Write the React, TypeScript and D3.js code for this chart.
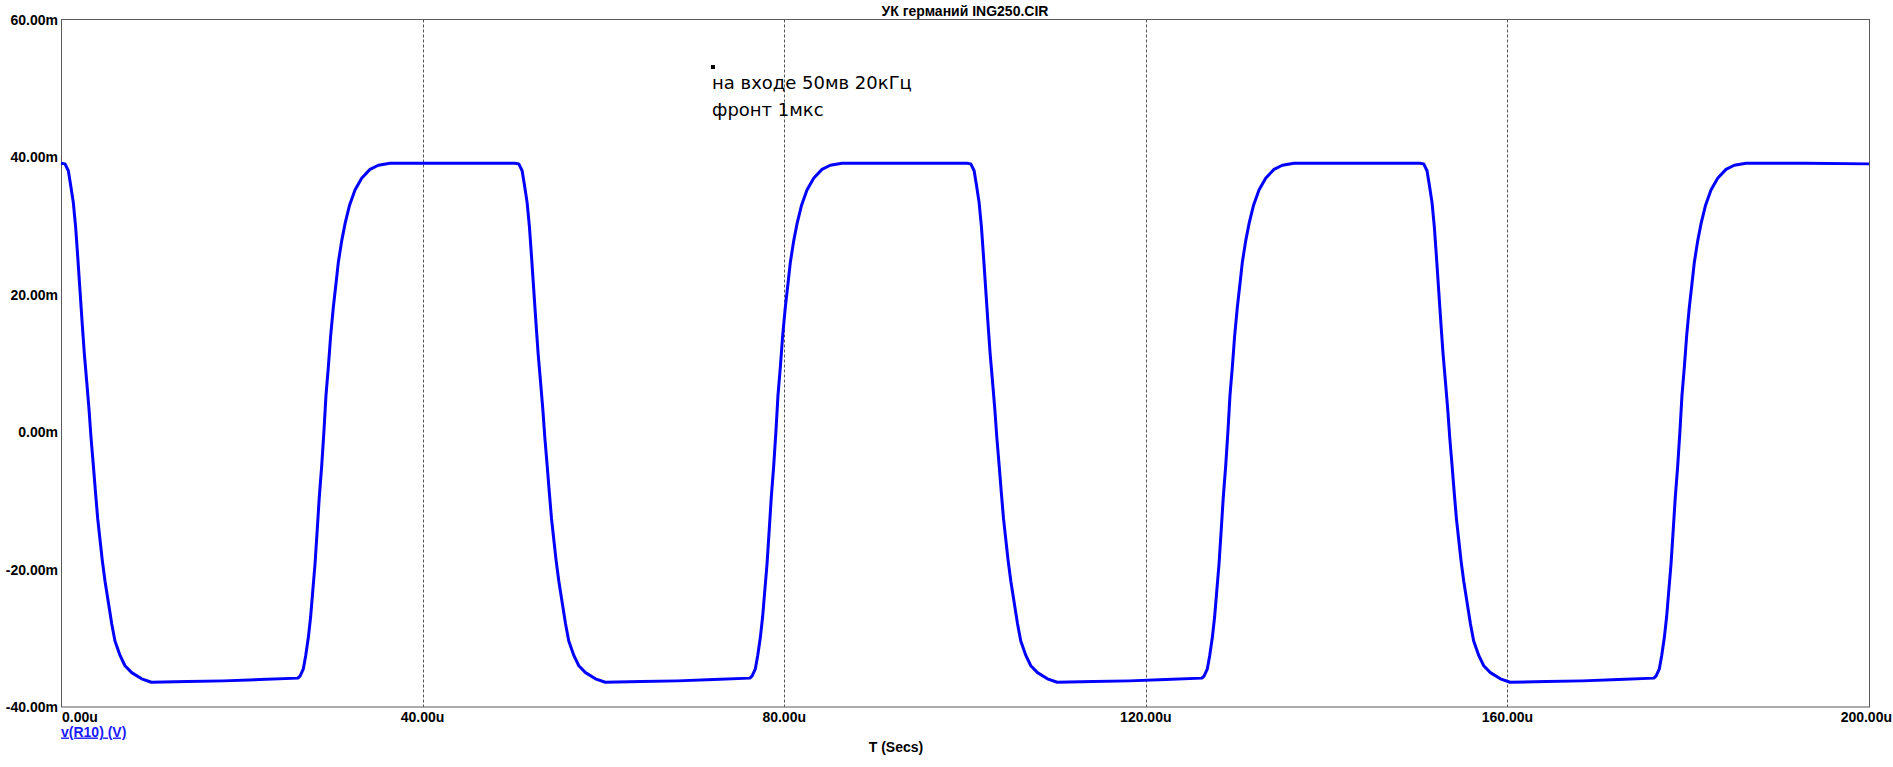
import React from "react";
import * as d3 from "d3";

// ---- data (time in µs, voltage in mV) ----
const title = "УК германий ING250.CIR";
const xTicks = [0, 40, 80, 120, 160, 200];
const xTickLabels = ["0.00u", "40.00u", "80.00u", "120.00u", "160.00u", "200.00u"];
const yTicks = [-40, -20, 0, 20, 40, 60];
const yTickLabels = ["-40.00m", "-20.00m", "0.00m", "20.00m", "40.00m", "60.00m"];
const gridX = [40, 80, 120, 160];
const noteLines = ["на входе 50мв 20кГц", "фронт 1мкс"];
const seriesLabel = "v(R10) (V)";
const xTitle = "T (Secs)";

const fall1: [number, number][] = [
  [0, 39.1], [0.44, 39.0], [0.81, 38.0], [1.07, 35.9], [1.36, 33.4], [1.62, 29.8], [1.84, 25.7], [2.1, 20.6],
  [2.36, 15.5], [2.58, 11.4], [2.84, 7.4], [3.1, 3.3], [3.32, -0.8], [3.58, -4.9], [3.83, -9.0], [4.06, -12.6],
  [4.31, -15.6], [4.57, -18.7], [4.87, -21.7], [5.24, -24.8], [5.61, -27.9], [5.97, -30.4], [6.53, -32.5],
  [7.08, -34.0], [7.82, -35.0], [8.92, -35.9], [10.0, -36.4], [14.0, -36.3], [18.0, -36.2], [22.0, -36.0],
];
const rise1: [number, number][] = [
  [26.2, -35.8], [26.44, -35.5], [26.8, -34.5], [27.07, -32.5], [27.36, -29.9], [27.62, -26.8], [27.84, -23.3],
  [28.1, -19.2], [28.35, -14.1], [28.57, -9.5], [28.84, -4.9], [29.09, 0.2], [29.31, 5.3], [29.57, 9.4],
  [29.83, 14.0], [30.12, 18.1], [30.42, 21.6], [30.68, 24.7], [31.05, 27.8], [31.42, 30.3], [31.9, 32.9],
  [32.52, 35.2], [33.26, 36.9], [34.18, 38.2], [35.1, 38.8], [36.4, 39.1], [43.0, 39.1],
];
const fall2: [number, number][] = [
  [50.2, 39.1], [50.64, 39.0], [51.01, 38.0], [51.27, 35.9], [51.56, 33.4], [51.82, 29.8], [52.04, 25.7], [52.3, 20.6],
  [52.56, 15.5], [52.78, 11.4], [53.04, 7.4], [53.3, 3.3], [53.52, -0.8], [53.78, -4.9], [54.03, -9.0], [54.26, -12.6],
  [54.51, -15.6], [54.77, -18.7], [55.07, -21.7], [55.44, -24.8], [55.81, -27.9], [56.17, -30.4], [56.73, -32.5],
  [57.28, -34.0], [58.02, -35.0], [59.12, -35.9], [60.2, -36.4], [64.2, -36.3], [68.2, -36.2], [72.2, -36.0],
];
const rise2: [number, number][] = [
  [76.2, -35.8], [76.44, -35.5], [76.8, -34.5], [77.07, -32.5], [77.36, -29.9], [77.62, -26.8], [77.84, -23.3],
  [78.1, -19.2], [78.35, -14.1], [78.57, -9.5], [78.84, -4.9], [79.09, 0.2], [79.31, 5.3], [79.57, 9.4],
  [79.83, 14.0], [80.12, 18.1], [80.42, 21.6], [80.68, 24.7], [81.05, 27.8], [81.42, 30.3], [81.9, 32.9],
  [82.52, 35.2], [83.26, 36.9], [84.18, 38.2], [85.1, 38.8], [86.4, 39.1], [93.0, 39.1],
];
const fall3: [number, number][] = [
  [100.2, 39.1], [100.64, 39.0], [101.01, 38.0], [101.27, 35.9], [101.56, 33.4], [101.82, 29.8], [102.04, 25.7],
  [102.3, 20.6], [102.56, 15.5], [102.78, 11.4], [103.04, 7.4], [103.3, 3.3], [103.52, -0.8], [103.78, -4.9],
  [104.03, -9.0], [104.26, -12.6], [104.51, -15.6], [104.77, -18.7], [105.07, -21.7], [105.44, -24.8],
  [105.81, -27.9], [106.17, -30.4], [106.73, -32.5], [107.28, -34.0], [108.02, -35.0], [109.12, -35.9],
  [110.2, -36.4], [114.2, -36.3], [118.2, -36.2], [122.2, -36.0],
];
const rise3: [number, number][] = [
  [126.2, -35.8], [126.44, -35.5], [126.8, -34.5], [127.07, -32.5], [127.36, -29.9], [127.62, -26.8], [127.84, -23.3],
  [128.1, -19.2], [128.35, -14.1], [128.57, -9.5], [128.84, -4.9], [129.09, 0.2], [129.31, 5.3], [129.57, 9.4],
  [129.83, 14.0], [130.12, 18.1], [130.42, 21.6], [130.68, 24.7], [131.05, 27.8], [131.42, 30.3], [131.9, 32.9],
  [132.52, 35.2], [133.26, 36.9], [134.18, 38.2], [135.1, 38.8], [136.4, 39.1], [143.0, 39.1],
];
const fall4: [number, number][] = [
  [150.3, 39.1], [150.74, 39.0], [151.11, 38.0], [151.37, 35.9], [151.66, 33.4], [151.92, 29.8], [152.14, 25.7],
  [152.4, 20.6], [152.66, 15.5], [152.88, 11.4], [153.14, 7.4], [153.4, 3.3], [153.62, -0.8], [153.88, -4.9],
  [154.13, -9.0], [154.36, -12.6], [154.61, -15.6], [154.87, -18.7], [155.17, -21.7], [155.54, -24.8],
  [155.91, -27.9], [156.27, -30.4], [156.83, -32.5], [157.38, -34.0], [158.12, -35.0], [159.22, -35.9],
  [160.3, -36.4], [164.3, -36.3], [168.3, -36.2], [172.3, -36.0],
];
const rise4: [number, number][] = [
  [176.2, -35.8], [176.44, -35.5], [176.8, -34.5], [177.07, -32.5], [177.36, -29.9], [177.62, -26.8], [177.84, -23.3],
  [178.1, -19.2], [178.35, -14.1], [178.57, -9.5], [178.84, -4.9], [179.09, 0.2], [179.31, 5.3], [179.57, 9.4],
  [179.83, 14.0], [180.12, 18.1], [180.42, 21.6], [180.68, 24.7], [181.05, 27.8], [181.42, 30.3], [181.9, 32.9],
  [182.52, 35.2], [183.26, 36.9], [184.18, 38.2], [185.1, 38.8], [186.4, 39.1], [193.0, 39.1], [200.0, 39.0],
];

const trace = [...fall1, ...rise1, ...fall2, ...rise2, ...fall3, ...rise3, ...fall4, ...rise4];

const W = 1893;
const H = 767;
const PL = 61, PR = 1869, PT = 19.5, PB = 707;
const FONT = "'Liberation Sans', Arial, sans-serif";

export default function App() {
  const x = d3.scaleLinear().domain([0, 200]).range([PL, PR]);
  const y = d3.scaleLinear().domain([-40, 60]).range([PB, PT]);
  const line = d3.line<[number, number]>().x((d) => x(d[0])).y((d) => y(d[1]));
  const frameColor = "#5a5a5a";
  const last = xTicks.length - 1;

  return (
    <svg
      width={W}
      height={H}
      style={{ position: "absolute", left: 0, top: 0, background: "#fff", display: "block" }}
    >
      <rect x={0} y={0} width={W} height={H} fill="#fff" />
      {gridX.map((g) => (
        <line key={g} x1={Math.round(x(g)) + 0.5} x2={Math.round(x(g)) + 0.5} y1={PT} y2={PB}
          stroke="#555" strokeWidth={1} strokeDasharray="3,2" />
      ))}
      <rect x={PL + 0.5} y={PT} width={PR - PL} height={PB - PT} fill="none" stroke={frameColor} strokeWidth={1} />
      <path d={line(trace) || ""} fill="none" stroke="#0000ff" strokeWidth={3} strokeLinejoin="round" />

      {yTicks.map((t, i) => (
        <text key={t} x={58} y={y(t) + 5} textAnchor="end" fontFamily={FONT} fontWeight="bold" fontSize={14} fill="#000">
          {yTickLabels[i]}
        </text>
      ))}
      {xTicks.map((t, i) => (
        <text key={t} x={i === 0 ? PL + 1 : i === last ? W - 1 : x(t)} y={722}
          textAnchor={i === 0 ? "start" : i === last ? "end" : "middle"}
          fontFamily={FONT} fontWeight="bold" fontSize={14} fill="#000">
          {xTickLabels[i]}
        </text>
      ))}
      <text x={965} y={15.5} textAnchor="middle" fontFamily={FONT} fontWeight="bold" fontSize={14} fill="#000">
        {title}
      </text>
      <text x={896} y={752} textAnchor="middle" fontFamily={FONT} fontWeight="bold" fontSize={14} fill="#000">
        {xTitle}
      </text>
      <text x={PL} y={736.5} fontFamily={FONT} fontWeight="bold" fontSize={14} fill="#1a1aff" textDecoration="underline">
        {seriesLabel}
      </text>

      <rect x={711} y={65} width={4} height={4} fill="#000" />
      {noteLines.map((s, i) => (
        <text key={i} x={712} y={89 + i * 27} fontFamily="'DejaVu Sans', sans-serif" fontSize={18} fill="#000">
          {s}
        </text>
      ))}
    </svg>
  );
}
